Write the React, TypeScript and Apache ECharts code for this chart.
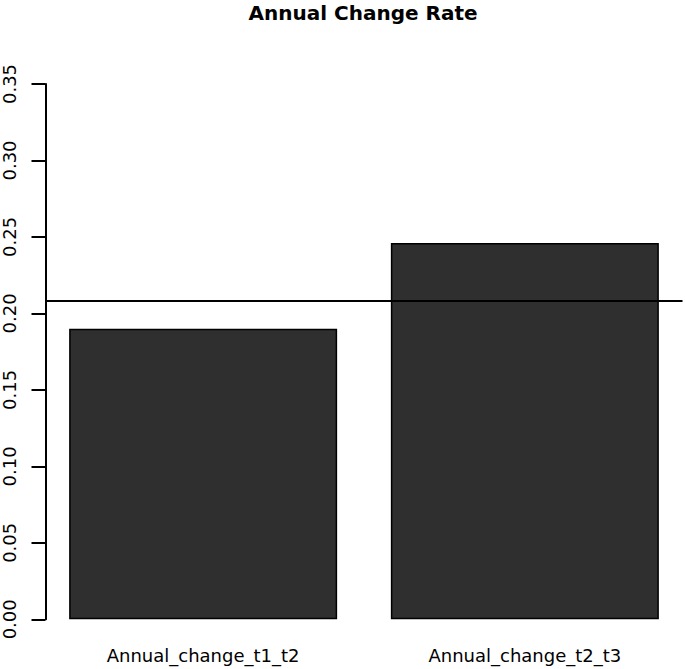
import React, { useEffect, useRef } from "react";
import * as echarts from "echarts";

const categories = ["Annual_change_t1_t2", "Annual_change_t2_t3"];
const values = [0.19, 0.246];
const referenceLine = 0.208;
const yTicks = [0, 0.05, 0.1, 0.15, 0.2, 0.25, 0.3, 0.35];
const title = "Annual Change Rate";

// R barplot layout: bar width 1, space 0.2
const barMid = (i: number) => 0.2 + 0.5 + i * 1.2;
const xMin = 0.2 - 0.088;
const xMax = 0.2 + 1.2 * categories.length - 0.2 + 0.088;

export default function App() {
  const ref = useRef<HTMLDivElement>(null);
  useEffect(() => {
    if (!ref.current) return;
    const chart = echarts.init(ref.current, null, { renderer: "svg" });
    const font = "DejaVu Sans";
    chart.setOption({
      animation: false,
      backgroundColor: "#ffffff",
      title: {
        text: title,
        left: 363,
        top: 2,
        padding: 0,
        textAlign: "center",
        textStyle: { fontFamily: font, fontWeight: "bold", fontSize: 20, lineHeight: 22, color: "#000" },
      },
      grid: { left: 45.5, right: 2.5, top: 84, bottom: 49.7, containLabel: false },
      xAxis: {
        type: "value",
        min: xMin,
        max: xMax,
        axisLine: { show: false },
        axisTick: { show: false },
        splitLine: { show: false },
        axisLabel: {
          customValues: categories.map((_, i) => barMid(i)),
          formatter: (v: number) => categories[Math.round((v - 0.7) / 1.2)] ?? "",
          fontFamily: font,
          fontSize: 18,
          color: "#000",
          margin: 27,
        },
      },
      yAxis: {
        type: "value",
        min: 0,
        max: yTicks[yTicks.length - 1],
        interval: 0.05,
        axisLine: { show: true, lineStyle: { color: "#000", width: 2 } },
        axisTick: { show: true, length: 14, lineStyle: { color: "#000", width: 2 } },
        splitLine: { show: false },
        axisLabel: {
          rotate: 90,
          margin: 27,
          fontFamily: font,
          fontSize: 18,
          color: "#000",
          formatter: (v: number) => v.toFixed(2),
        },
      },
      series: [
        {
          type: "bar",
          data: values.map((v, i) => [barMid(i), v]),
          barWidth: 268,
          itemStyle: { color: "#2f2f2f", borderColor: "#000", borderWidth: 1.5 },
          markLine: {
            silent: true,
            symbol: "none",
            precision: 4,
            label: { show: false },
            lineStyle: { color: "#000", width: 2, type: "solid" },
            data: [{ yAxis: referenceLine }],
          },
        },
      ],
    });
    return () => chart.dispose();
  }, []);
  return (
    <div
      ref={ref}
      style={{ position: "absolute", left: 0, top: 0, width: 685, height: 669 }}
    />
  );
}
